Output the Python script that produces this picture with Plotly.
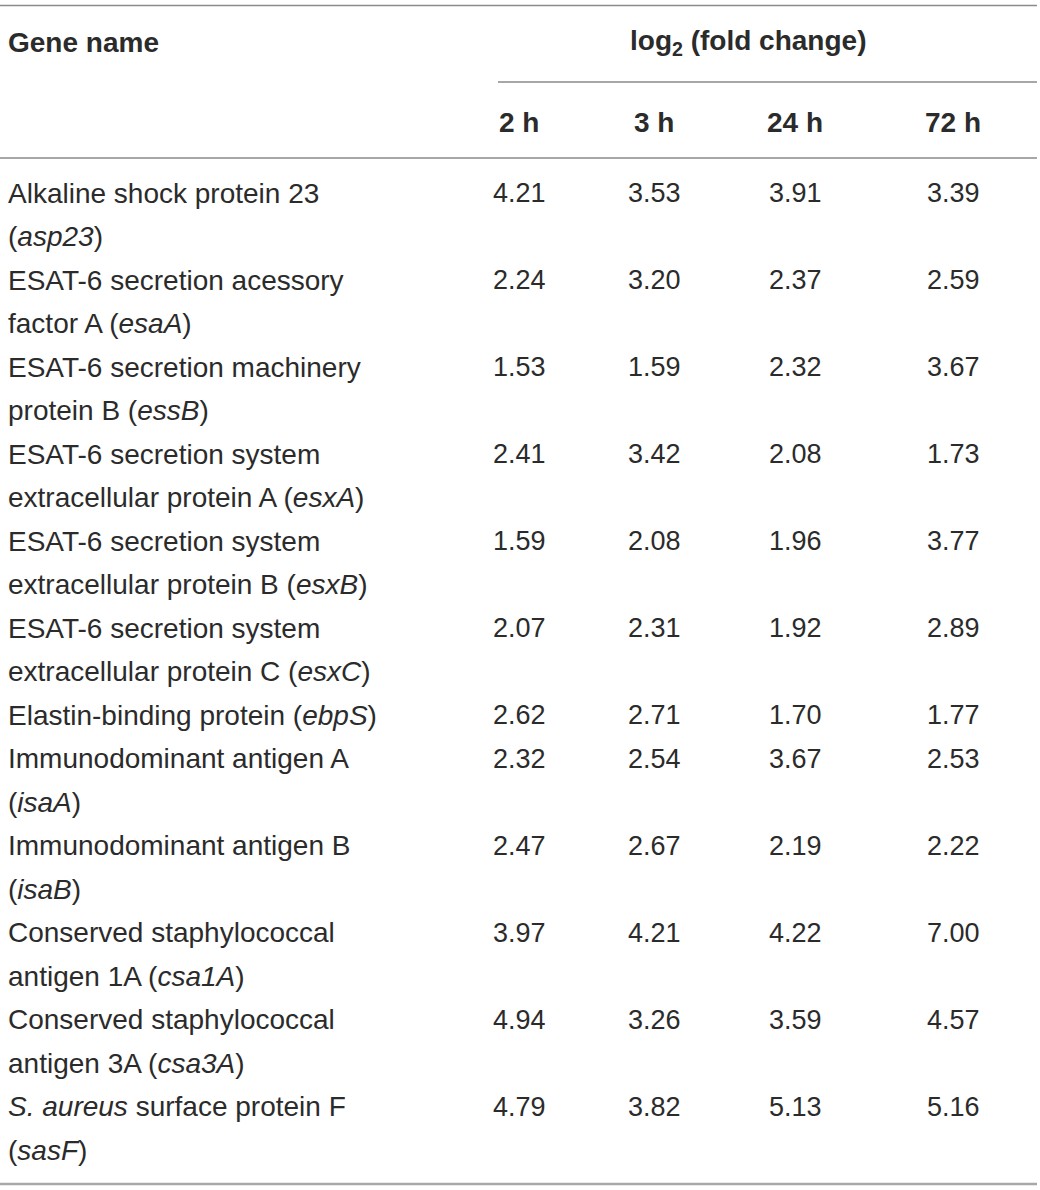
"""table of log2 fold change per gene at four time points, drawn with annotations and shapes"""

import plotly.graph_objects as go

# header texts
gene_header = "Gene name"
group_header = "log<sub>2</sub> (fold change)"
time_points = ["2 h", "3 h", "24 h", "72 h"]

# gene names, one list item per printed line
gene_names = [
    ["Alkaline shock protein 23", "(<i>asp23</i>)"],
    ["ESAT-6 secretion acessory", "factor A (<i>esaA</i>)"],
    ["ESAT-6 secretion machinery", "protein B (<i>essB</i>)"],
    ["ESAT-6 secretion system", "extracellular protein A (<i>esxA</i>)"],
    ["ESAT-6 secretion system", "extracellular protein B (<i>esxB</i>)"],
    ["ESAT-6 secretion system", "extracellular protein C (<i>esxC</i>)"],
    ["Elastin-binding protein (<i>ebpS</i>)"],
    ["Immunodominant antigen A", "(<i>isaA</i>)"],
    ["Immunodominant antigen B", "(<i>isaB</i>)"],
    ["Conserved staphylococcal", "antigen 1A (<i>csa1A</i>)"],
    ["Conserved staphylococcal", "antigen 3A (<i>csa3A</i>)"],
    ["<i>S. aureus</i> surface protein F", "(<i>sasF</i>)"],
]

fc_2h = [4.21, 2.24, 1.53, 2.41, 1.59, 2.07, 2.62, 2.32, 2.47, 3.97, 4.94, 4.79]
fc_3h = [3.53, 3.20, 1.59, 3.42, 2.08, 2.31, 2.71, 2.54, 2.67, 4.21, 3.26, 3.82]
fc_24h = [3.91, 2.37, 2.32, 2.08, 1.96, 1.92, 1.70, 3.67, 2.19, 4.22, 3.59, 5.13]
fc_72h = [3.39, 2.59, 3.67, 1.73, 3.77, 2.89, 1.77, 2.53, 2.22, 7.00, 4.57, 5.16]

W, H = 1040, 1190
FONT = "Liberation Sans"
TXT = "#2b2b2b"
SIZE = 28

col_x = [519, 654, 795, 953]
line_h = 43.5

fig = go.Figure()
# invisible trace so the axes exist
fig.add_trace(go.Scatter(x=[0, W], y=[0, H], mode="markers", marker=dict(opacity=0), hoverinfo="skip"))

ann = []


def add_text(x, y, text, bold=False, anchor="left", size=SIZE):
    if bold:
        text = "<b>" + text + "</b>"
    ann.append(
        dict(
            x=x, y=y, xref="x", yref="y", text=text, showarrow=False,
            xanchor=anchor, yanchor="middle",
            font=dict(family=FONT, size=size, color=TXT),
        )
    )


# headers
add_text(6, 42, gene_header, bold=True)
add_text(748, 42, group_header, bold=True, anchor="center")
for x, t in zip(col_x, time_points):
    add_text(x, 122, t, bold=True, anchor="center")

# body rows
y = 193
for i, lines in enumerate(gene_names):
    for k, line in enumerate(lines):
        add_text(6, y + k * line_h, line)
    for x, vals in zip(col_x, [fc_2h, fc_3h, fc_24h, fc_72h]):
        add_text(x, y, "%.2f" % vals[i], anchor="center", size=27)
    y += len(lines) * line_h

# rules
shapes = [
    dict(type="line", x0=0, x1=1037, y0=5.5, y1=5.5, line=dict(color="#8a8a8a", width=1.5)),
    dict(type="line", x0=498, x1=1037, y0=82, y1=82, line=dict(color="#8a8a8a", width=1.5)),
    dict(type="line", x0=0, x1=1037, y0=158, y1=158, line=dict(color="#8a8a8a", width=1.5)),
    dict(type="line", x0=0, x1=1037, y0=1184, y1=1184, line=dict(color="#a8a8a8", width=2.5)),
]
for s in shapes:
    s["xref"] = "x"
    s["yref"] = "y"

fig.update_layout(
    width=W,
    height=H,
    margin=dict(l=0, r=0, t=0, b=0),
    plot_bgcolor="white",
    paper_bgcolor="white",
    showlegend=False,
    annotations=ann,
    shapes=shapes,
)
fig.update_xaxes(range=[0, W], visible=False, fixedrange=True)
fig.update_yaxes(range=[H, 0], visible=False, fixedrange=True)

# page body has a default margin, drop it so the table sits at the corner
fig.write_html(
    "out.html",
    config={"displayModeBar": False},
    post_script="document.body.style.margin='0';",
)
